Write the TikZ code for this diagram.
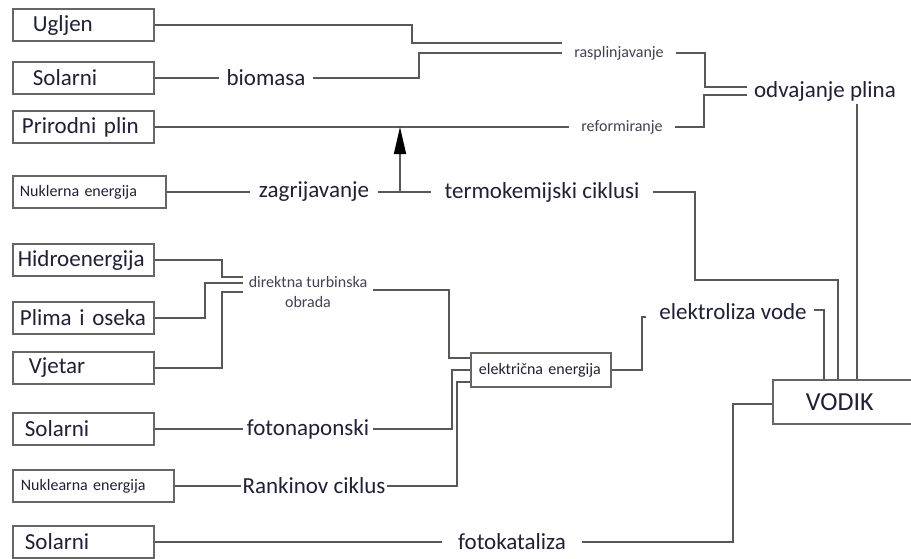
\documentclass[tikz,border=0pt]{standalone}
\usepackage{fontspec}
\setmainfont{Carlito}
\usetikzlibrary{arrows.meta}

\definecolor{linija}{HTML}{585858}
\definecolor{okvir}{HTML}{666666}
\definecolor{tekst}{HTML}{202036}
\newcommand{\velik}{\fontsize{23}{25}\selectfont}
\newcommand{\malen}{\fontsize{16}{20}\selectfont}
\hyphenpenalty=10000

\begin{document}
\begin{tikzpicture}[x=1pt,y=-1pt]
	\tikzstyle{box} = [draw=okvir, line width=1.8pt, minimum height=32pt, inner ysep=2pt, anchor=west, align=left, text=tekst, font=\velik]
	\tikzstyle{oznaka} = [text=tekst, inner xsep=7pt, inner ysep=3pt, font=\velik]
	\tikzstyle{sitno} = [text=tekst!85, inner xsep=12pt, font=\malen]
	\tikzstyle{ln} = [draw=linija, line width=1.5pt]
	\tikzstyle{es} = [ln, -{Triangle[length=27pt,width=12pt,color=black]}]
	\useasboundingbox (0,0) rectangle (911,558);
	\fill [white] (0,0) rectangle (911,558);
	% izvori
	\node [box, text width=101pt, inner xsep=20pt] (ugljen) at (12,25) {Ugljen};
	\node [box, text width=101pt, inner xsep=20pt] (solarA) at (12,78) {Solarni};
	\node [box, text width=123pt, inner xsep=9pt] (plin) at (12,127) {\mbox{Prirodni plin}};
	\node [box, text width=139pt, inner xsep=7pt, font=\malen] (nukA) at (12,192) {\mbox{Nuklerna energija}};
	\node [box, text width=131pt, inner xsep=5pt] (hidro) at (12,260) {Hidroenergija};
	\node [box, text width=127pt, inner xsep=7pt] (plima) at (12,318) {\mbox{Plima i oseka}};
	\node [box, text width=109pt, inner xsep=16pt] (vjetar) at (12,368) {Vjetar};
	\node [box, text width=117pt, inner xsep=12pt] (solarB) at (12,429) {Solarni};
	\node [box, text width=145pt, inner xsep=8pt, font=\malen] (nukB) at (12,486) {\mbox{Nuklearna energija}};
	\node [box, text width=117pt, inner xsep=12pt] (solarC) at (12,542) {Solarni};
	% procesi
	\node [oznaka] (biomasa) at (266,78) {biomasa};
	\node [sitno] (ras) at (619,53) {rasplinjavanje};
	\node [sitno] (ref) at (622,127) {reformiranje};
	\node [oznaka] (odv) at (825,91) {odvajanje plina};
	\node [oznaka, inner xsep=9pt] (zagr) at (314,192) {zagrijavanje};
	\node [oznaka, inner xsep=13pt] (termo) at (542,192) {termokemijski ciklusi};
	\node [sitno, inner xsep=6pt, align=center] (direk) at (308,292) {direktna turbinska\\obrada};
	\node [oznaka, inner xsep=4pt] (foto) at (308,429) {fotonaponski};
	\node [oznaka, inner xsep=1pt] (rank) at (314,486) {Rankinov ciklus};
	\node [box, minimum height=34pt, text width=124pt, inner xsep=8pt, font=\malen] (elek) at (470,370) {\mbox{električna energija}};
	\node [oznaka] (elvode) at (733,312) {elektroliza vode};
	\node [oznaka, inner xsep=16pt] (fkat) at (512,542) {fotokataliza};
	\node [box, minimum height=44pt, text width=94pt, inner xsep=33pt, font=\fontsize{26}{28}\selectfont] (vodik) at (772,402) {VODIK};
	\coordinate (grana) at (400,192);
	\coordinate (odvdno) at ([xshift=32pt]odv.south);
	% veze
	\draw [ln] (ugljen.east) -| (412,43) -- ([yshift=10pt]ras.west);
	\draw [ln] (solarA.east) -- (biomasa.west);
	\draw [ln] (biomasa.east) -| (419,53) -- (ras.west);
	\draw [ln] (ras.east) -| (705,87) -- ([yshift=4pt]odv.west);
	\draw [ln] (plin.east) -- (ref.west);
	\draw [ln] (ref.east) -| (704,95) -- ([yshift=-4pt]odv.west);
	\draw [ln] (vodik.north -| odvdno) -- (odvdno);
	\draw [ln] (nukA.east) -- (zagr.west);
	\draw [ln] (zagr.east) -- (termo.west);
	\draw [es] (grana) -- (grana |- plin.east);
	\draw [ln] (termo.east) -| (695,280) -| ([xshift=-15pt]vodik.north);
	\draw [ln] (hidro.east) -| (222,277) -- ([yshift=15pt]direk.west);
	\draw [ln] (plima.east) -| (205,283) -- ([yshift=9pt]direk.west);
	\draw [ln] (vjetar.east) -| (222,292) -- (direk.west);
	\draw [ln] ([yshift=2pt]direk.east) -| (449,358) -- ([yshift=12pt]elek.west);
	\draw [ln] (solarB.east) -- (foto.west);
	\draw [ln] (foto.east) -| (452,370) -- (elek.west);
	\draw [ln] (nukB.east) -- (rank.west);
	\draw [ln] (rank.east) -| (457,382) -- ([yshift=-12pt]elek.west);
	\draw [ln] (elek.east) -| (642,317) -- ++(4,0);
	\draw [ln] ([yshift=2pt]elvode.east) -| ([xshift=-29pt]vodik.north);
	\draw [ln] (solarC.east) -- (fkat.west);
	\draw [ln] (fkat.east) -| (733,404) -- ([yshift=-2pt]vodik.west);
\end{tikzpicture}
\end{document}
